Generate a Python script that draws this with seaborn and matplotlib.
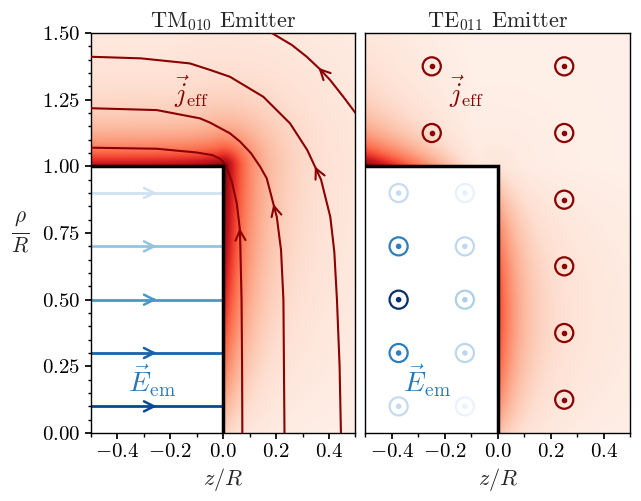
import numpy as np
import matplotlib
matplotlib.use('Agg')
import matplotlib.pyplot as plt
import seaborn as sns
from matplotlib.ticker import MultipleLocator

# --- j_eff field lines of the TM010 panel (z/R, rho/R), in flow direction ---
line_a_z = [0.445, 0.44, 0.43, 0.42, 0.405, 0.37, 0.318, 0.253, 0.152, 0.026, -0.05, -0.125, -0.31, -0.50]
line_a_rho = [0.0, 0.25, 0.50, 0.68, 0.81, 0.95, 1.061, 1.161, 1.261, 1.336, 1.362, 1.386, 1.405, 1.411]
line_b_z = [0.232, 0.23, 0.228, 0.219, 0.203, 0.165, 0.14, 0.105, 0.064, 0.026, -0.049, -0.087, -0.25, -0.50]
line_b_rho = [0.0, 0.25, 0.50, 0.686, 0.81, 0.955, 0.999, 1.05, 1.093, 1.124, 1.164, 1.18, 1.211, 1.218]
line_c_z = [0.073, 0.072, 0.07, 0.064, 0.052, 0.034, 0.02, 0.008, -0.01, -0.04, -0.1, -0.25, -0.50]
line_c_rho = [0.0, 0.25, 0.50, 0.76, 0.861, 0.94, 0.98, 1.008, 1.028, 1.042, 1.052, 1.066, 1.07]
line_d_z = [0.50, 0.454, 0.404, 0.365, 0.316, 0.26, 0.184]
line_d_rho = [1.20, 1.261, 1.324, 1.365, 1.411, 1.455, 1.50]

# --- E_em inside the TM010 cavity: horizontal lines, colour = field strength ---
e_rho = [0.9, 0.7, 0.5, 0.3, 0.1]
e_strength = [0.2, 0.4, 0.6, 0.8, 0.9]

# --- TE011 panel: out-of-plane symbols ---
te_e_z = [-0.375] * 5 + [-0.125] * 5
te_e_rho = [0.9, 0.7, 0.5, 0.3, 0.1] * 2
te_e_strength = [0.25, 0.7, 1.0, 0.7, 0.25, 0.08, 0.27, 0.33, 0.28, 0.07]
te_j_z = [-0.25, -0.25, 0.25, 0.25, 0.25, 0.25, 0.25, 0.25]
te_j_rho = [1.375, 1.125, 1.375, 1.125, 0.875, 0.625, 0.375, 0.125]

JCOL = '#8b0000'
ECOL = plt.get_cmap('Blues')(0.72)


def decay(d):
    # fall-off of |j_eff| away from the cavity wall
    return 0.7 * np.exp(-d / 0.07) + 0.3 * np.exp(-d / 0.3)


def wall_field(amp_top, amp_side):
    zz, rr = np.meshgrid(np.linspace(-0.5, 0.5, 500), np.linspace(0, 1.5, 750))
    zt = np.clip(zz, -0.5, 0.0)
    rs = np.clip(rr, 0.0, 1.0)
    d_top = np.hypot(zz - zt, rr - 1.0)
    d_side = np.hypot(zz, rr - rs)
    field = np.maximum(amp_top(zt) * decay(d_top), amp_side(rs) * decay(d_side)) + 0.03
    field[(zz < 0) & (rr < 1)] = np.nan
    return field


tm_field = wall_field(lambda z: 0.82 + 0.18 * np.exp(z / 0.1),
                      lambda r: 0.15 + 0.85 * np.sin(1.4 * r) / np.sin(1.4))
te_field = wall_field(lambda z: (-z / 0.5) ** 1.5,
                      lambda r: 0.6 * np.sin(np.pi * (r + 0.15) / 1.2))


def arrow_mid(ax, zs, rs, color, lw=1.5):
    zs, rs = np.asarray(zs), np.asarray(rs)
    seg = np.hypot(np.diff(zs), np.diff(rs))
    s = np.concatenate([[0], np.cumsum(seg)])
    m = s[-1] / 2
    zt, rt = np.interp(m, s, zs), np.interp(m, s, rs)
    z0, r0 = np.interp(m - 0.02, s, zs), np.interp(m - 0.02, s, rs)
    ax.annotate('', xy=(zt, rt), xytext=(z0, r0),
                arrowprops=dict(arrowstyle='->', color=color, lw=lw,
                                mutation_scale=18, shrinkA=0, shrinkB=0))


sns.set_theme(style='ticks')
plt.rcParams.update({
    'font.family': 'serif',
    'font.serif': ['cmr10'],
    'mathtext.fontset': 'cm',
    'axes.formatter.use_mathtext': True,
    'axes.unicode_minus': True,
    'axes.edgecolor': 'black',
    'axes.linewidth': 1.0,
    'xtick.color': 'black',
    'ytick.color': 'black',
    'xtick.major.size': 4,
    'ytick.major.size': 4,
    'xtick.minor.size': 3,
    'ytick.minor.size': 2.5,
    'xtick.labelsize': 15,
    'ytick.labelsize': 15,
})

fig = plt.figure(figsize=(6.41, 5.01), dpi=100)
ax1 = fig.add_axes([0.1412, 0.1357, 0.4134, 0.7984])
ax2 = fig.add_axes([0.5702, 0.1357, 0.4134, 0.7984], sharey=ax1)

for ax, field in [(ax1, tm_field), (ax2, te_field)]:
    ax.imshow(field, extent=(-0.5, 0.5, 0, 1.5), origin='lower', aspect='auto',
              cmap='Reds', vmin=0, vmax=1, interpolation='bilinear', zorder=0)
    ax.plot([-0.5, 0, 0], [1, 1, 0], color='black', lw=2.5, zorder=4,
            solid_joinstyle='miter')
    ax.set_xlim(-0.5, 0.5)
    ax.set_ylim(0, 1.5)
    ax.xaxis.set_major_locator(MultipleLocator(0.2))
    ax.xaxis.set_minor_locator(MultipleLocator(0.1))
    ax.yaxis.set_major_locator(MultipleLocator(0.25))
    ax.yaxis.set_minor_locator(MultipleLocator(0.05))
    ax.set_xlabel(r'$z/R$', fontsize=16, labelpad=3)
    ax.text(-0.12, 1.28, r'$\vec{j}_{\rm eff}$', color=JCOL, fontsize=19,
            ha='center', va='center', zorder=5)
    ax.text(-0.266, 0.195, r'$\vec{E}_{\rm em}$', color=ECOL, fontsize=20,
            ha='center', va='center', zorder=5)

# TM010: field lines
for zs, rs in [(line_a_z, line_a_rho), (line_b_z, line_b_rho),
               (line_c_z, line_c_rho), (line_d_z, line_d_rho)]:
    sns.lineplot(x=zs, y=rs, sort=False, estimator=None, color=JCOL, lw=1.5,
                 ax=ax1, zorder=3)
    arrow_mid(ax1, zs, rs, JCOL)

blues = plt.get_cmap('Blues')
for r, v in zip(e_rho, e_strength):
    sns.lineplot(x=[-0.5, 0.0], y=[r, r], color=blues(v), lw=2, ax=ax1, zorder=2)
    arrow_mid(ax1, [-0.5, 0.0], [r, r], blues(v), lw=1.8)

# TE011: out-of-plane symbols
ax2.scatter(te_e_z, te_e_rho, s=170, facecolors='none',
            edgecolors=[blues(v) for v in te_e_strength], linewidths=1.6, zorder=3)
ax2.scatter(te_e_z, te_e_rho, s=9, color=[blues(v) for v in te_e_strength], zorder=3)
ax2.scatter(te_j_z, te_j_rho, s=170, facecolors='none', edgecolors=JCOL,
            linewidths=1.6, zorder=3)
ax2.scatter(te_j_z, te_j_rho, s=9, color=JCOL, zorder=3)

ax1.set_title(r'TM$_{010}$ Emitter', fontsize=16, pad=4)
ax2.set_title(r'TE$_{011}$ Emitter', fontsize=16, pad=4)
ax1.set_ylabel(r'$\frac{\rho}{R}$', fontsize=22, rotation=0, labelpad=16, va='center')
ax2.tick_params(axis='y', which='both', left=False, labelleft=False)

fig.savefig('out.png', dpi=100)
